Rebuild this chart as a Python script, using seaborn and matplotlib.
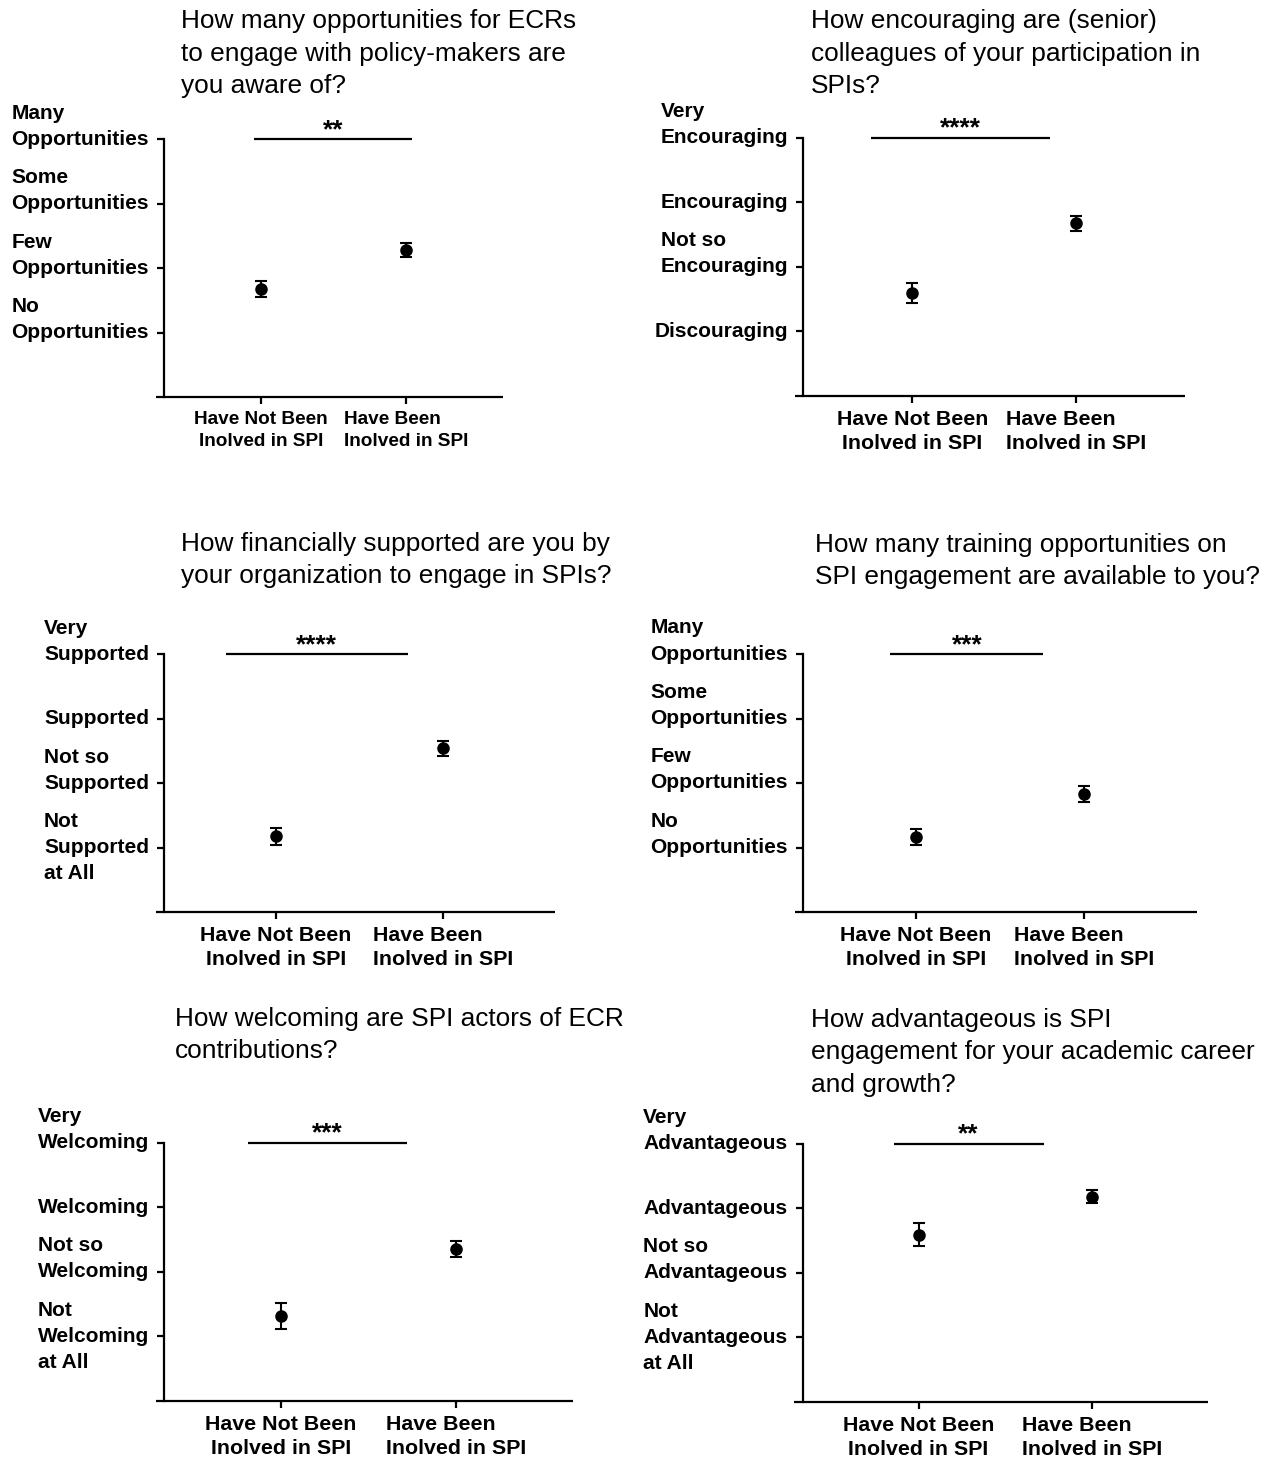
import numpy as np
import pandas as pd
import matplotlib
matplotlib.use("Agg")
import matplotlib.pyplot as plt
import seaborn as sns

# ---------------- data ----------------
groups = ["Have Not Been\nInolved in SPI", "Have Been\nInolved in SPI"]

title_1 = "How many opportunities for ECRs\nto engage with policy-makers are\nyou aware of?"
title_2 = "How encouraging are (senior)\ncolleagues of your participation in\nSPIs?"
title_3 = "How financially supported are you by\nyour organization to engage in SPIs?"
title_4 = "How many training opportunities on\nSPI engagement are available to you?"
title_5 = "How welcoming are SPI actors of ECR\ncontributions?"
title_6 = "How advantageous is SPI\nengagement for your academic career\nand growth?"

ylabels_1 = ["No\nOpportunities", "Few\nOpportunities", "Some\nOpportunities", "Many\nOpportunities"]
ylabels_2 = ["Discouraging", "Not so\nEncouraging", "Encouraging", "Very\nEncouraging"]
ylabels_3 = ["Not\nSupported\nat All", "Not so\nSupported", "Supported", "Very\nSupported"]
ylabels_4 = ["No\nOpportunities", "Few\nOpportunities", "Some\nOpportunities", "Many\nOpportunities"]
ylabels_5 = ["Not\nWelcoming\nat All", "Not so\nWelcoming", "Welcoming", "Very\nWelcoming"]
ylabels_6 = ["Not\nAdvantageous\nat All", "Not so\nAdvantageous", "Advantageous", "Very\nAdvantageous"]

yticks = [1, 2, 3, 4]

means_1 = [1.68, 2.28]; sem_1 = [0.13, 0.11]
means_2 = [1.59, 2.67]; sem_2 = [0.16, 0.11]
means_3 = [1.18, 2.54]; sem_3 = [0.13, 0.12]
means_4 = [1.16, 1.83]; sem_4 = [0.125, 0.125]
means_5 = [1.31, 2.35]; sem_5 = [0.20, 0.125]
means_6 = [2.59, 3.18]; sem_6 = [0.18, 0.095]

sig_1 = "**";   span_1 = (-0.046, 1.037)
sig_2 = "****"; span_2 = (-0.25, 0.844)
sig_3 = "****"; span_3 = (-0.30, 0.786)
sig_4 = "***";  span_4 = (-0.15, 0.758)
sig_5 = "***";  span_5 = (-0.19, 0.72)
sig_6 = "**";   span_6 = (-0.144, 0.72)
sig_level = 4.0

# ---------------- layout ----------------
W, H = 1272, 1459
sns.set_theme(style="ticks")
plt.rcParams["font.family"] = ["Liberation Sans", "DejaVu Sans"]
plt.rcParams["text.color"] = "black"
plt.rcParams["xtick.color"] = "black"
plt.rcParams["ytick.color"] = "black"
plt.rcParams["axes.edgecolor"] = "black"

fig = plt.figure(figsize=(W / 100, H / 100), dpi=100)
fig.patch.set_facecolor("white")

# (left, right, bottom) in pixels
rects = [(164.3, 503, 397.3), (803.3, 1185, 395.7),
         (164.3, 555, 912.3), (803.3, 1196.7, 912),
         (164.3, 572.7, 1400.7), (802.7, 1208.3, 1401.7)]
title_pos = [(181, 21), (811, 21), (181, 544), (815, 545), (175, 1019), (811, 1020)]
panel_h = 258

panels = [
    (title_1, ylabels_1, means_1, sem_1, sig_1, span_1),
    (title_2, ylabels_2, means_2, sem_2, sig_2, span_2),
    (title_3, ylabels_3, means_3, sem_3, sig_3, span_3),
    (title_4, ylabels_4, means_4, sem_4, sig_4, span_4),
    (title_5, ylabels_5, means_5, sem_5, sig_5, span_5),
    (title_6, ylabels_6, means_6, sem_6, sig_6, span_6),
]

LW = 1.6
for i, (title, ylabs, means, sems, sig, span) in enumerate(panels):
    l, r, b = rects[i]
    t = b - panel_h
    ax = fig.add_axes([l / W, 1 - b / H, (r - l) / W, panel_h / H])
    ax.set_facecolor("white")

    df = pd.DataFrame({"group": groups, "score": means})
    sns.pointplot(data=df, x="group", y="score", order=groups, errorbar=None,
                  color="black", markers="o", linestyle="none",
                  markersize=7, ax=ax)
    ax.errorbar(np.arange(len(groups)), means, yerr=sems, fmt="none",
                ecolor="black", elinewidth=1.5, capsize=4.5, capthick=1.5,
                zorder=3)

    ax.set_xlim(-2 / 3, 5 / 3)
    ax.set_ylim(0, 4)
    ax.set_xlabel("")
    ax.set_ylabel("")

    # y ticks
    labs = [s + "\n " if s.count("\n") == 1 else s for s in ylabs]
    ax.set_yticks(yticks)
    ax.set_yticklabels(labs, fontsize=15, fontweight="bold", va="center",
                       ha="right", multialignment="left", linespacing=1.47,
                       color="black")
    # x ticks
    ax.set_xticks(np.arange(len(groups)))
    xfs = 13.7 if i == 0 else 15.4
    ax.set_xticklabels(groups, fontsize=xfs, fontweight="bold",
                       linespacing=1.35, color="black")
    for j, lab in enumerate(ax.get_xticklabels()):
        lab.set_multialignment("center" if j == 0 else "left")

    ax.tick_params(axis="y", length=5, width=LW, pad=6, color="black")
    ax.tick_params(axis="x", length=5, width=LW, pad=5, color="black")

    for s in ["top", "right", "bottom"]:
        ax.spines[s].set_visible(False)
    ax.spines["left"].set_linewidth(LW)
    ax.spines["left"].set_color("black")
    ax.axhline(0, xmin=-8.3 / (r - l), xmax=1, color="black", lw=LW,
               clip_on=False, solid_capstyle="butt")

    # significance bar
    ax.plot(list(span), [sig_level, sig_level], color="black", lw=LW,
            clip_on=False, solid_capstyle="butt")
    ax.annotate(sig, xy=((span[0] + span[1]) / 2, sig_level),
                xytext=(0, 1.5), textcoords="offset points",
                ha="center", va="baseline", fontsize=19, fontweight="bold",
                color="black", annotation_clip=False)

    # title lines
    tx, ty = title_pos[i]
    for k, line in enumerate(title.split("\n")):
        fig.text(tx / W, 1 - (ty + 32.5 * k) / H, line, fontsize=18.9,
                 ha="left", va="center", color="black")

fig.savefig("out.png", dpi=100, facecolor="white")
